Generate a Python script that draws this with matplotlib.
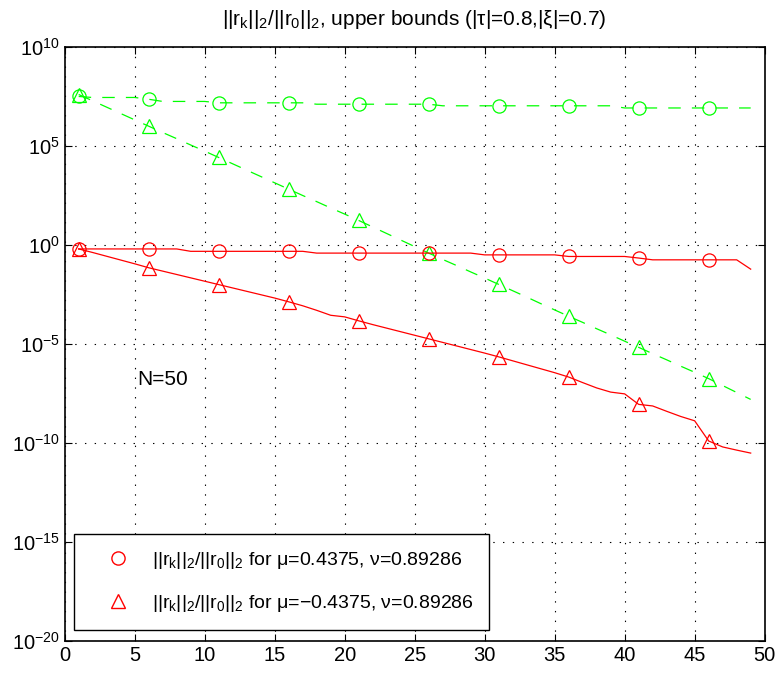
import numpy as np
import matplotlib
matplotlib.use('Agg')
import matplotlib.pyplot as plt
from matplotlib.lines import Line2D

plt.rcParams['font.family'] = ['Liberation Sans', 'DejaVu Sans']
plt.rcParams['mathtext.fontset'] = 'custom'
plt.rcParams['mathtext.rm'] = 'Liberation Sans'
plt.rcParams['mathtext.it'] = 'Liberation Sans'
plt.rcParams['mathtext.bf'] = 'Liberation Sans'
plt.rcParams['lines.scale_dashes'] = False

# iteration index k
k = np.arange(1, 50)

# log10 of residual ratios
# red, circles (mu=0.4375)
red_circ = [-0.20, -0.20, -0.20, -0.20, -0.20, -0.20, -0.20, -0.20, -0.32, -0.32,
            -0.32, -0.32, -0.32, -0.32, -0.32, -0.32, -0.32, -0.41, -0.41, -0.41,
            -0.41, -0.41, -0.41, -0.41, -0.41, -0.41, -0.41, -0.41, -0.41, -0.50,
            -0.50, -0.50, -0.50, -0.50, -0.50, -0.58, -0.58, -0.58, -0.58, -0.58,
            -0.66, -0.75, -0.75, -0.75, -0.75, -0.75, -0.75, -0.75, -1.22]
# red, triangles (mu=-0.4375)
red_tri = [-0.20, -0.38, -0.57, -0.76, -0.95, -1.15, -1.32, -1.49, -1.66, -1.83,
           -2.00, -2.17, -2.34, -2.51, -2.68, -2.87, -3.07, -3.30, -3.55, -3.63,
           -3.83, -4.02, -4.20, -4.38, -4.56, -4.74, -4.92, -5.10, -5.28, -5.46,
           -5.65, -5.85, -6.05, -6.25, -6.45, -6.67, -6.95, -7.22, -7.43, -7.52,
           -8.05, -8.13, -8.40, -8.66, -8.88, -9.90, -10.20, -10.36, -10.51]
# green, circles (upper bound, mu=0.4375)
green_circ = [7.50, 7.45, 7.45, 7.45, 7.45, 7.36, 7.25, 7.25, 7.25, 7.25,
              7.18, 7.18, 7.18, 7.18, 7.18, 7.18, 7.18, 7.11, 7.11, 7.11,
              7.11, 7.11, 7.11, 7.11, 7.11, 7.11, 7.03, 7.03, 7.03, 7.03,
              7.03, 7.03, 7.03, 7.03, 7.03, 7.03, 7.03, 7.03, 7.03, 6.92,
              6.92, 6.92, 6.92, 6.92, 6.92, 6.92, 6.92, 6.92, 6.92]
# green, triangles (upper bound, mu=-0.4375)
green_tri = [7.60, 7.28, 6.96, 6.64, 6.32, 6.00, 5.68, 5.37, 5.05, 4.74,
             4.42, 4.10, 3.78, 3.46, 3.14, 2.82, 2.50, 2.19, 1.87, 1.56,
             1.24, 0.91, 0.58, 0.25, -0.08, -0.41, -0.73, -1.04, -1.36, -1.67,
             -1.99, -2.31, -2.63, -2.96, -3.28, -3.60, -3.91, -4.23, -4.54, -4.86,
             -5.17, -5.49, -5.80, -6.12, -6.43, -6.75, -7.10, -7.45, -7.80]

title = r'$||r_k||_2/||r_0||_2$, upper bounds (|τ|=0.8,|ξ|=0.7)'
label_pos = r'$||r_k||_2/||r_0||_2$ for μ=0.4375, ν=0.89286'
label_neg = r'$||r_k||_2/||r_0||_2$ for μ=−0.4375, ν=0.89286'

fig = plt.figure(figsize=(7.83, 6.77), dpi=100)
ax = fig.add_axes([0.0826, 0.0532, 0.8940, 0.8774])

ms = 9.5
lw = 0.9
dash = (9, 8)
ax.semilogy(k, np.power(10.0, green_circ), color='#00ff00', lw=lw, dashes=dash,
            marker='o', ms=ms, mfc='none', mew=lw, markevery=5)
ax.semilogy(k, np.power(10.0, green_tri), color='#00ff00', lw=lw, dashes=dash,
            marker='^', ms=ms, mfc='none', mew=lw, markevery=5)
ax.semilogy(k, np.power(10.0, red_circ), color='red', lw=lw,
            marker='o', ms=ms, mfc='none', mew=lw, markevery=5)
ax.semilogy(k, np.power(10.0, red_tri), color='red', lw=lw,
            marker='^', ms=ms, mfc='none', mew=lw, markevery=5)

ax.set_xlim(0, 50)
ax.set_ylim(1e-20, 1e10)
ax.set_xticks(np.arange(0, 51, 5))
ax.set_yticks([10.0 ** e for e in range(-20, 11, 5)])
ax.yaxis.set_minor_locator(matplotlib.ticker.NullLocator())
ax.tick_params(direction='in', top=True, right=True, labelsize=14.5, length=5, width=0.8)
ax.grid(True, color='black', linestyle=(0, (1, 6)), linewidth=0.8)
for s in ax.spines.values():
    s.set_linewidth(1.2)

ax.set_title(title, fontsize=15, pad=16)
ax.text(5.2, 10 ** -6.8, 'N=50', fontsize=15, va='center', ha='left')

handles = [Line2D([], [], color='red', marker='o', ms=ms, mfc='none', ls='none'),
           Line2D([], [], color='red', marker='^', ms=ms, mfc='none', ls='none')]
leg = ax.legend(handles, [label_pos, label_neg], loc='lower left',
                bbox_to_anchor=(0.013, 0.019), borderaxespad=0, fontsize=14,
                fancybox=False, framealpha=1, edgecolor='black',
                handlelength=2.9, handletextpad=0.3, borderpad=0.8, labelspacing=1.15)
leg.get_frame().set_linewidth(1.0)

fig.savefig('out.png', dpi=100)
